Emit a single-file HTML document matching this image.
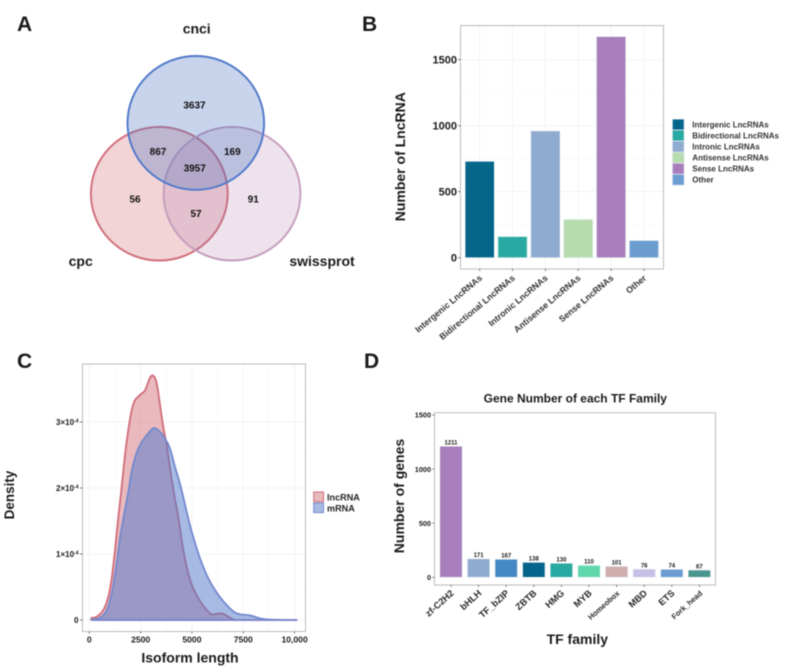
<!DOCTYPE html>
<html lang="en">
<head>
<meta charset="utf-8">
<title>LncRNA figure panels</title>
<style>
html,body{margin:0;padding:0;background:#fff;}
svg{display:block;font-family:"Liberation Sans",Arial,sans-serif;font-weight:bold;fill:#1a1a1a;}
</style>
</head>
<body>
<svg id="fig" width="792" height="671" viewBox="0 0 792 671" xmlns="http://www.w3.org/2000/svg" style="filter:blur(0.4px)">
  <rect width="792" height="671" fill="#fff"/>
  <text x="17" y="31" font-size="21">A</text>
  <text x="362" y="31" font-size="21">B</text>
  <text x="17" y="368" font-size="21">C</text>
  <text x="364" y="368" font-size="21">D</text>

  <g>
    <ellipse cx="159.3" cy="193.7" rx="68.4" ry="66.8" fill="rgba(208,96,106,.27)" stroke="#d06c79" stroke-width="1.9"/>
    <ellipse cx="232" cy="193.7" rx="68.4" ry="66.8" fill="rgba(170,115,165,.2)" stroke="#c49cbd" stroke-width="1.9"/>
    <ellipse cx="195.8" cy="122.9" rx="68.3" ry="66.9" fill="rgba(70,112,192,.3)" stroke="#4f79c9" stroke-width="1.9"/>
    <g font-size="10" text-anchor="middle" fill="#111">
      <text x="194.5" y="108.5">3637</text>
      <text x="158" y="155.2">867</text>
      <text x="232.3" y="155.2">169</text>
      <text x="194.7" y="171.5">3957</text>
      <text x="135" y="202.5">56</text>
      <text x="253.3" y="202.5">91</text>
      <text x="196" y="217.2">57</text>
    </g>
    <g font-size="14" text-anchor="middle">
      <text x="196.7" y="33.5">cnci</text>
      <text x="80.7" y="266">cpc</text>
      <text x="322" y="266">swissprot</text>
    </g>
  </g>

  <g id="chartB"></g>
  <g id="chartC"></g>
  <g id="chartD"></g>
</svg>

<script>
// ---- Panel B data ----
const typeCategories = ['Intergenic LncRNAs','Bidirectional LncRNAs','Intronic LncRNAs','Antisense LncRNAs','Sense LncRNAs','Other'];
const typeValues = [730,160,960,290,1675,130];
const typeColors = ['#05668a','#28aaa2','#90abd0','#b6dcad','#a87dbb','#6c9dd1'];
const typeTicks = [0,500,1000,1500];

// ---- Panel C data (density in units of 1e-4) ----
const lncLength = [100,360,682,925,1091,1252,1413,1544,1739,1900,2065,2226,2470,2713,2957,3120,3280,3445,3600,3770,3930,4140,4335,4579,4905,5309,5797,6040,6449,6771,7014,7400,10100];
const lncDensity = [0.03,0.05,0.15,0.35,0.63,1.06,1.56,1.92,2.50,2.88,3.18,3.33,3.41,3.48,3.67,3.70,3.59,3.26,2.93,2.65,2.30,1.89,1.56,1.06,0.61,0.33,0.125,0.086,0.10,0.05,0.01,0,0];
const mrnaLength = [100,521,848,1091,1286,1495,1705,1900,2031,2192,2387,2630,2874,3151,3445,3687,3930,4174,4384,4549,4744,4988,5392,5797,6284,6771,7180,7828,8154,8641,10100];
const mrnaDensity = [0.005,0.035,0.15,0.40,0.76,1.24,1.62,1.94,2.20,2.42,2.60,2.73,2.83,2.91,2.85,2.75,2.60,2.32,2.10,1.90,1.64,1.34,0.935,0.63,0.38,0.20,0.10,0.07,0.04,0.01,0];
const lengthTicks = [0,2500,5000,7500,10000];
const lengthTickLabels = ['0','2500','5000','7500','10,000'];
const densityTicks = [0,1,2,3];

// ---- Panel D data ----
const tfFamilies = ['zf-C2H2','bHLH','TF_bZIP','ZBTB','HMG','MYB','Homeobox','MBD','ETS','Fork_head'];
const tfCounts = [1211,171,167,138,130,110,101,76,74,67];
const tfColors = ['#a87dbb','#90abd0','#4488c4','#05648a','#28aaa2','#5ed8ac','#cfaeae','#c6c0e6','#6c9dd1','#49968f'];
const tfTicks = [0,500,1000,1500];

const NS = 'http://www.w3.org/2000/svg';
function el(tag, attrs, parent, text) {
  const e = document.createElementNS(NS, tag);
  for (const k in attrs) e.setAttribute(k, attrs[k]);
  if (text !== undefined) e.textContent = text;
  parent.appendChild(e);
  return e;
}
function slug(s) { return String(s).toLowerCase().replace(/[^a-z0-9]+/g, '-'); }
function smooth(pts) {
  let d = 'M' + pts[0][0].toFixed(2) + ' ' + pts[0][1].toFixed(2);
  for (let i = 0; i < pts.length - 1; i++) {
    const p0 = pts[Math.max(i - 1, 0)], p1 = pts[i], p2 = pts[i + 1], p3 = pts[Math.min(i + 2, pts.length - 1)];
    const c1x = p1[0] + (p2[0] - p0[0]) / 6, c1y = p1[1] + (p2[1] - p0[1]) / 6;
    const c2x = p2[0] - (p3[0] - p1[0]) / 6, c2y = p2[1] - (p3[1] - p1[1]) / 6;
    d += 'C' + c1x.toFixed(2) + ' ' + c1y.toFixed(2) + ' ' + c2x.toFixed(2) + ' ' + c2y.toFixed(2) + ' ' + p2[0].toFixed(2) + ' ' + p2[1].toFixed(2);
  }
  return d;
}
const GRID = '#f1f1f1', FRAME = '#bdbdbd';

/* ========== Panel B ========== */
(function () {
  const g = document.getElementById('chartB');
  const L = 460.5, R = 663.5, T = 25.5, B = 269;
  const y = v => 257.7 - v * (198 / 1500);
  const x = i => 479.7 + i * 32.85;
  typeTicks.forEach(t => {
    const line = el('line', {x1: L, x2: R, y1: y(t), y2: y(t), stroke: GRID, 'stroke-width': 0.8}, g);
    
    
    const minor = el('line', {x1: L, x2: R, y1: y(t + 250), y2: y(t + 250), stroke: '#f7f7f7', 'stroke-width': 0.6}, g);
    
    
  });
  typeCategories.forEach((c, i) => {
    const line = el('line', {x1: x(i), x2: x(i), y1: T, y2: B, stroke: GRID, 'stroke-width': 0.8}, g);
    
    
  });
  typeValues.forEach((v, i) => {
    const bar = el('rect', {x: x(i) - 14.6, y: y(v), width: 29.2, height: y(0) - y(v), fill: typeColors[i], stroke: '#e8eef4', 'stroke-width': 0.6}, g);
    
    
  });
  const frame = el('rect', {x: L, y: T, width: R - L, height: B - T, fill: 'none', stroke: FRAME, 'stroke-width': 1}, g);
  
  
  typeTicks.forEach(t => {
    const tick = el('line', {x1: L - 2.5, x2: L, y1: y(t), y2: y(t), stroke: '#444', 'stroke-width': 0.7}, g);
    
    
    const lab = el('text', {x: L - 3.5, y: y(t) + 4, 'font-size': 11, 'text-anchor': 'end'}, g, t);
    
    
  });
  typeCategories.forEach((c, i) => {
    const tick = el('line', {x1: x(i), x2: x(i), y1: B, y2: B + 2, stroke: '#444', 'stroke-width': 0.7}, g);
    
    
    const lx = x(i) + 3, ly = B + 10;
    const lab = el('text', {x: lx, y: ly, 'font-size': 8.8, 'text-anchor': 'end', fill: '#333', transform: 'rotate(-40 ' + lx + ' ' + ly + ')'}, g, c);
    
    
  });
  const title = el('text', {x: 405, y: 156.7, 'font-size': 14, 'text-anchor': 'middle', transform: 'rotate(-90 405 156.7)'}, g, 'Number of LncRNA');
  
  
  typeCategories.forEach((c, i) => {
    const cy = 124.5 + i * 11.05;
    const sw = el('rect', {x: 672.5, y: cy - 5.3, width: 11.5, height: 10.6, fill: typeColors[i], stroke: '#dde', 'stroke-width': 0.5}, g);
    
    
    const lab = el('text', {x: 692.3, y: cy + 2.8, 'font-size': 8, fill: '#333'}, g, c);
    
    
  });
})();

/* ========== Panel C ========== */
(function () {
  const g = document.getElementById('chartC');
  const L = 82.5, R = 305.5, T = 364, B = 631.5;
  const x = v => 89.3 + v * 0.02053;
  const y = v => 620 - v * 66;
  densityTicks.forEach(t => {
    const line = el('line', {x1: L, x2: R, y1: y(t), y2: y(t), stroke: GRID, 'stroke-width': 0.8}, g);
    
    
    const minor = el('line', {x1: L, x2: R, y1: y(t + 0.5), y2: y(t + 0.5), stroke: '#f7f7f7', 'stroke-width': 0.6}, g);
    
    
  });
  lengthTicks.forEach(t => {
    const line = el('line', {x1: x(t), x2: x(t), y1: T, y2: B, stroke: GRID, 'stroke-width': 0.8}, g);
    
    
    if (t < 10000) {
      const minor = el('line', {x1: x(t + 1250), x2: x(t + 1250), y1: T, y2: B, stroke: '#f7f7f7', 'stroke-width': 0.6}, g);
      
      
    }
  });
  function area(xs, ys, fill, stroke) {
    const pts = xs.map((v, i) => [x(v), y(ys[i])]);
    const d = smooth(pts) + 'L' + x(xs[xs.length - 1]).toFixed(2) + ' ' + y(0) + 'L' + x(xs[0]).toFixed(2) + ' ' + y(0) + 'Z';
    return el('path', {d: d, fill: fill, stroke: stroke, 'stroke-width': 1.8, 'stroke-linejoin': 'round'}, g);
  }
  const lncArea = area(lncLength, lncDensity, 'rgba(205,95,108,.44)', '#d06c79');
  
  
  const mrnaArea = area(mrnaLength, mrnaDensity, 'rgba(84,122,204,.52)', '#7488cf');
  
  
  const frame = el('rect', {x: L, y: T, width: R - L, height: B - T, fill: 'none', stroke: FRAME, 'stroke-width': 1}, g);
  
  
  densityTicks.forEach(t => {
    const tick = el('line', {x1: L - 2.5, x2: L, y1: y(t), y2: y(t), stroke: '#444', 'stroke-width': 0.7}, g);
    
    
    const lab = el('text', {x: 78.5, y: y(t) + 3, 'font-size': 8, 'text-anchor': 'end'}, g);
    
    
    if (t === 0) {
      lab.textContent = '0';
    } else {
      const base = el('tspan', {}, lab, t + '\u00d710');
      
      
      const sup = el('tspan', {dy: -2.5, 'font-size': 5}, lab, '-4');
      
      
    }
  });
  lengthTicks.forEach((t, i) => {
    const tick = el('line', {x1: x(t), x2: x(t), y1: B, y2: B + 2, stroke: '#444', 'stroke-width': 0.7}, g);
    
    
    const lab = el('text', {x: x(t), y: 642.7, 'font-size': 8.6, 'text-anchor': 'middle'}, g, lengthTickLabels[i]);
    
    
  });
  const xt = el('text', {x: 190, y: 662.7, 'font-size': 14, 'text-anchor': 'middle'}, g, 'Isoform length');
  
  
  const yt = el('text', {x: 14, y: 495, 'font-size': 13.5, 'text-anchor': 'middle', transform: 'rotate(-90 14 495)'}, g, 'Density');
  
  
  const s1 = el('rect', {x: 313.7, y: 492, width: 9.8, height: 9.6, fill: 'rgba(205,95,108,.44)', stroke: '#d06c79', 'stroke-width': 1}, g);
  
  
  const s2 = el('rect', {x: 313.7, y: 503, width: 9.8, height: 9.6, fill: 'rgba(84,122,204,.52)', stroke: '#7488cf', 'stroke-width': 1}, g);
  
  
  const l1 = el('text', {x: 327, y: 500.3, 'font-size': 9.1, fill: '#222'}, g, 'lncRNA');
  
  
  const l2 = el('text', {x: 327, y: 511.3, 'font-size': 9.1, fill: '#222'}, g, 'mRNA');
  
  
})();

/* ========== Panel D ========== */
(function () {
  const g = document.getElementById('chartD');
  const L = 434.5, R = 715.5, T = 412.7, B = 585;
  const x = i => 451 + i * 27.6;
  const y = v => 577.3 - v * (162.3 / 1500);
  tfCounts.forEach((v, i) => {
    const bar = el('rect', {x: x(i) - 11.2, y: y(v), width: 22.4, height: y(0) - y(v), fill: tfColors[i], stroke: '#eef2f5', 'stroke-width': 0.6}, g);
    
    
    const lab = el('text', {x: x(i), y: y(v) - 1.8, 'font-size': 6, 'text-anchor': 'middle'}, g, v);
    
    
  });
  const frame = el('rect', {x: L, y: T, width: R - L, height: B - T, fill: 'none', stroke: FRAME, 'stroke-width': 1}, g);
  
  
  tfTicks.forEach(t => {
    const tick = el('line', {x1: L - 2, x2: L, y1: y(t), y2: y(t), stroke: '#444', 'stroke-width': 0.7}, g);
    
    
    const lab = el('text', {x: 431, y: y(t) + 2.7, 'font-size': 7.3, 'text-anchor': 'end'}, g, t);
    
    
  });
  tfFamilies.forEach((c, i) => {
    const tick = el('line', {x1: x(i), x2: x(i), y1: B, y2: B + 2, stroke: '#444', 'stroke-width': 0.7}, g);
    
    
    const small = c === 'Homeobox' || c === 'Fork_head';
    const lx = x(i) + 3.5, ly = B + 9;
    const lab = el('text', {x: lx, y: ly, 'font-size': small ? 7.6 : 9.3, 'text-anchor': 'end', fill: '#2a2a2a', transform: 'rotate(-42 ' + lx + ' ' + ly + ')'}, g, c);
    
    
  });
  const title = el('text', {x: 575.3, y: 402.3, 'font-size': 12, 'text-anchor': 'middle'}, g, 'Gene Number of each TF Family');
  
  
  const xt = el('text', {x: 577.3, y: 644, 'font-size': 14, 'text-anchor': 'middle'}, g, 'TF family');
  
  
  const yt = el('text', {x: 404, y: 496, 'font-size': 14, 'text-anchor': 'middle', transform: 'rotate(-90 404 496)'}, g, 'Number of genes');
  
  
})();
</script>
</body>
</html>
